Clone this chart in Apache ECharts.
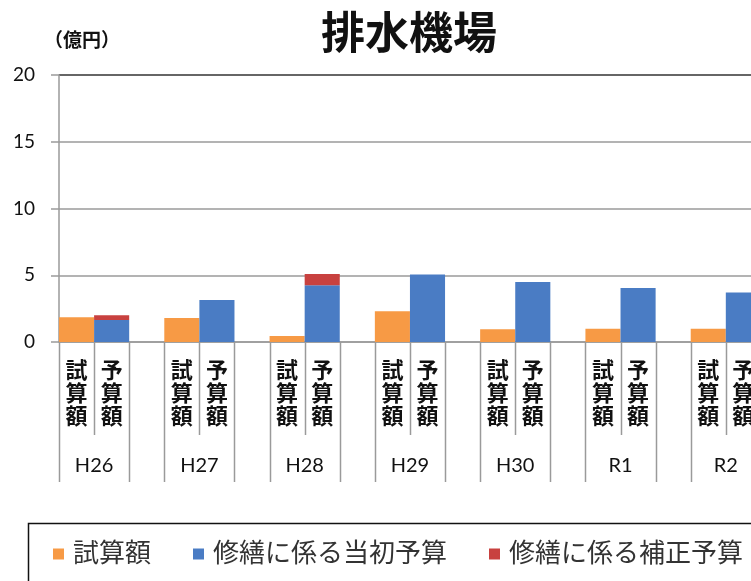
<!DOCTYPE html>
<html>
<head>
<meta charset="utf-8">
<script src="https://cdn.jsdelivr.net/npm/echarts@6/dist/echarts.min.js"></script>
<style>
	html, body { margin: 0; padding: 0; background: #fff; }
	#chart { width: 751px; height: 581px; }
</style>
</head>
<body>
<div id="chart"></div>
<script>
	// 年度
	var years = ["H26", "H27", "H28", "H29", "H30", "R1", "R2"];
	// 各年度の棒ラベル
	var barNames = ["試算額", "予算額"];
	// 試算額 (億円)
	var trialAmount = [1.85, 1.8, 0.45, 2.3, 0.95, 1.0, 1.0];
	// 修繕に係る当初予算
	var initialBudget = [1.65, 3.15, 4.25, 5.05, 4.5, 4.05, 3.7];
	// 修繕に係る補正予算
	var supplementaryBudget = [0.35, 0, 0.85, 0, 0, 0, 0];
	// 縦軸
	var yMax = 20, yStep = 5;

	var jp = "Lato, 'Noto Sans CJK JP', sans-serif";
	var grayLine = "#9a9a9a";

	/*
	 * 年度ごとに [試算額, 予算額, 空き] の3区分を作る
	 */
	var leafCats = [], yearPoints = [], separators = [];
	var trialData = [], initialData = [], suppData = [];

	years.forEach(function(y, i) {

		leafCats.push(barNames[0], barNames[1], "");

		trialData.push(trialAmount[i], "-", "-");
		initialData.push("-", initialBudget[i], "-");
		suppData.push("-", supplementaryBudget[i] || "-", "-");

		yearPoints.push("", y, "");

		// 区切り線 [区分の左端, 長さ種別]
		separators.push([i * 3, 1], [i * 3 + 1, 0], [i * 3 + 2, 1]);

	});

	yearPoints.push("");
	separators.push([years.length * 3, 1]);

	/*
	 * 区分の左端に縦線を引く
	 */
	function renderSeparator(params, api) {

		var band = api.size([1, 0])[0];
		var p = api.coord([api.value(0), 0]);
		var x = Math.round(p[0] - band / 2) + 0.5;
		var len = api.value(1) ? 140 : 93;

		return {
			type: "line",
			shape: { x1: x, y1: p[1], x2: x, y2: p[1] + len },
			style: { stroke: grayLine, lineWidth: 1.5 }
		};

	}

	var chart = echarts.init(document.getElementById("chart"));

	chart.setOption({
		animation: false,
		color: ["#F79A45", "#4A7CC4", "#C8413F"],
		title: [{
			text: "排水機場",
			left: 316,
			top: 8,
			textStyle: {
				fontFamily: jp,
				fontSize: 44,
				fontWeight: "bold",
				color: "#111"
			}
		}, {
			text: "（億円）",
			left: 39,
			top: 26,
			textStyle: {
				fontFamily: jp,
				fontSize: 19,
				fontWeight: "bold",
				color: "#111"
			}
		}],
		legend: {
			data: ["試算額", "修繕に係る当初予算", "修繕に係る補正予算"],
			left: 53,
			top: 541,
			padding: 0,
			icon: "rect",
			itemWidth: 11,
			itemHeight: 11,
			itemGap: 42,
			textStyle: {
				fontFamily: jp,
				fontSize: 26,
				color: "#333",
				padding: [0, 0, 0, 4]
			}
		},
		graphic: [{
			type: "rect",
			left: 26,
			top: 521,
			shape: { width: 760, height: 100 },
			style: { fill: "none", stroke: "#111", lineWidth: 1.5 }
		}],
		grid: {
			left: 59,
			top: 75,
			width: 737,
			height: 267,
			outerBoundsMode: "none"
		},
		xAxis: [{
			type: "category",
			data: leafCats,
			position: "bottom",
			axisLine: { lineStyle: { color: grayLine, width: 1.5 } },
			axisTick: { show: false },
			axisLabel: {
				interval: 0,
				margin: 17,
				fontFamily: jp,
				fontSize: 22,
				lineHeight: 23,
				fontWeight: "bold",
				color: "#111",
				formatter: function(v) { return v.split("").join("\n"); }
			}
		}, {
			type: "category",
			data: yearPoints,
			position: "bottom",
			boundaryGap: false,
			axisLine: { show: false },
			axisTick: { show: false },
			axisLabel: {
				interval: 0,
				margin: 114,
				fontFamily: jp,
				fontSize: 20,
				color: "#111"
			}
		}],
		yAxis: {
			type: "value",
			min: 0,
			max: yMax,
			interval: yStep,
			axisLine: { show: true, lineStyle: { color: grayLine, width: 1.5 } },
			axisTick: { show: true, length: 8, lineStyle: { color: grayLine, width: 1.5 } },
			axisLabel: {
				margin: 24,
				fontFamily: jp,
				fontSize: 19,
				color: "#111"
			},
			splitLine: {
				lineStyle: {
					color: [grayLine, grayLine, grayLine, grayLine, "#333"],
					width: 1.5
				}
			}
		},
		series: [{
			name: "試算額",
			type: "bar",
			stack: "a",
			barCategoryGap: "0%",
			data: trialData
		}, {
			name: "修繕に係る当初予算",
			type: "bar",
			stack: "a",
			barCategoryGap: "0%",
			data: initialData
		}, {
			name: "修繕に係る補正予算",
			type: "bar",
			stack: "a",
			barCategoryGap: "0%",
			data: suppData
		}, {
			name: "区切り",
			type: "custom",
			silent: true,
			clip: false,
			renderItem: renderSeparator,
			data: separators
		}]
	});
</script>
</body>
</html>
